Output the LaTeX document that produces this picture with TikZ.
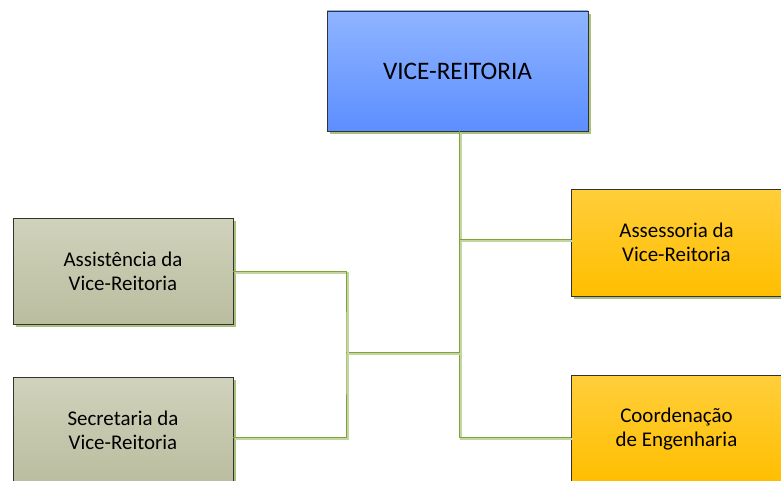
\documentclass[tikz,border=0pt]{standalone}
\usepackage{fontspec}
\setmainfont{Carlito}
\usetikzlibrary{calc}
\usetikzlibrary{positioning}
\usetikzlibrary{shadows}
\definecolor{linkgreen}{HTML}{7FA23A}
\definecolor{linkshade}{HTML}{C4D6A0}
\definecolor{boxshade}{HTML}{A9C07E}
\tikzstyle{orgbox} = [draw=black!80, rectangle, inner sep=0pt, align=center, font=\fontsize{15.7}{18}\selectfont, drop shadow={shadow xshift=2.2pt, shadow yshift=-2.2pt, fill=boxshade, opacity=1}]
\tikzstyle{colorTop} = [top color={rgb,255:red,143;green,180;blue,255}, bottom color={rgb,255:red,92;green,142;blue,255}]
\tikzstyle{colorSide} = [top color={rgb,255:red,208;green,210;blue,188}, bottom color={rgb,255:red,186;green,189;blue,158}]
\tikzstyle{colorSub} = [top color={rgb,255:red,255;green,206;blue,58}, bottom color={rgb,255:red,255;green,190;blue,0}]
\tikzstyle{link} = [draw=linkgreen, line width=0.6pt, preaction={draw=linkshade, line width=1pt, transform canvas={shift={(1.6pt,-1.6pt)}}}]

\begin{document}
\begin{tikzpicture}[x=0.75pt, y=-0.75pt]
\clip (0,0) rectangle (781,481);
\node[orgbox, colorTop, minimum width=195.75pt, minimum height=90pt, font=\fontsize{18.9}{22}\selectfont] (vice) at (457.5,71) {VICE-REITORIA};
\node[orgbox, colorSide, minimum width=165pt, minimum height=79.5pt] (assist) at (123,271) {Assistência da\\Vice-Reitoria};
\node[orgbox, colorSide, minimum width=165pt, minimum height=79.5pt] (secret) at (123,430) {Secretaria da\\Vice-Reitoria};
\node[orgbox, colorSub, minimum width=158pt, minimum height=80pt] (assess) at (676.5,242.5) {Assessoria da\\Vice-Reitoria};
\node[orgbox, colorSub, minimum width=158pt, minimum height=80pt] (coord) at (676.5,429) {Coordenação\\de Engenharia};
% branch points
\coordinate (trunk) at (459,437);
\coordinate (hub) at (459,352);
\coordinate (left) at (346,352);
\draw[link] (vice.south -| trunk) -- (trunk) -- (trunk -| coord.west);
\draw[link] (hub |- 0,239) -- (assess.west |- 0,239);
\draw[link] (hub) -- (left);
\draw[link] (assist.east) -| (left) |- (secret.east |- trunk);
\end{tikzpicture}
\end{document}
